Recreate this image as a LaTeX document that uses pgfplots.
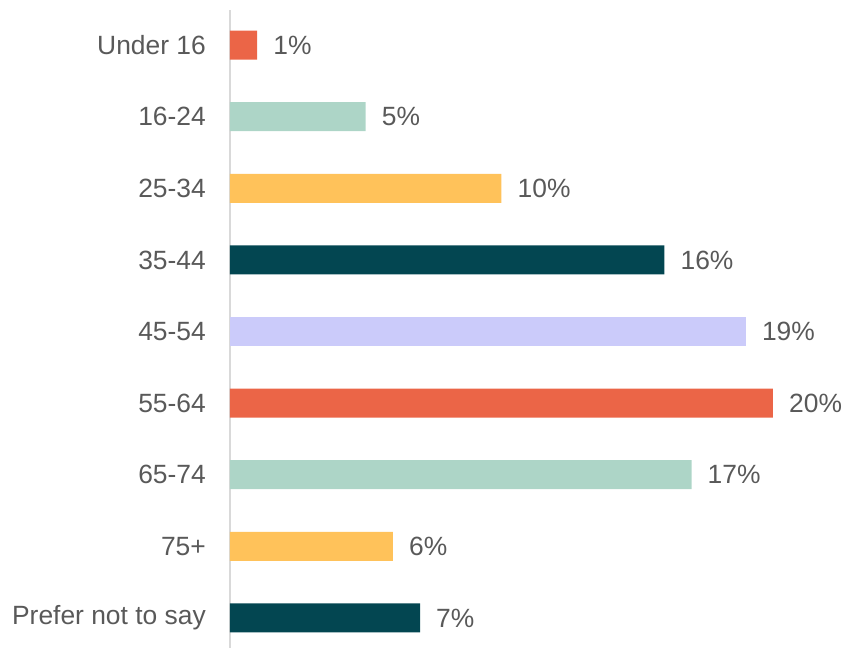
\documentclass[border=0pt]{standalone}
\usepackage{pgfplots}
\pgfplotsset{compat=1.18}
\usepackage{fontspec}
\setmainfont{Liberation Sans}
\definecolor{cRed}{HTML}{EB6547}
\definecolor{cMint}{HTML}{ADD5C7}
\definecolor{cYellow}{HTML}{FFC25A}
\definecolor{cTeal}{HTML}{034651}
\definecolor{cLav}{HTML}{CBCBFA}
\definecolor{axisgray}{HTML}{D9D9D9}
\definecolor{labelgray}{HTML}{595959}
\begin{document}
\begin{tikzpicture}
\useasboundingbox (-230pt,0pt) rectangle (616pt,-648pt);
\begin{axis}[
  at={(0pt,-10pt)}, anchor=north west,
  scale only axis, width=616pt, height=638pt,
  xmin=0, xmax=22.69, ymin=-0.49, ymax=8.42, y dir=reverse,
  xbar, bar width=29pt, bar shift=0pt,
  hide x axis,
  axis y line*=left,
  y axis line style={draw=axisgray, line width=1.5pt, -},
  ytick={0,...,8},
  yticklabels={Under 16,16-24,25-34,35-44,45-54,55-64,65-74,75+,Prefer not to say},
  major tick length=0pt,
  /pgf/number format/assume math mode=true,
  yticklabel style={font=\fontsize{26.4}{31}\selectfont, text=labelgray, inner sep=0pt, xshift=-24pt, anchor=east},
  nodes near coords={\pgfmathprintnumber{\pgfplotspointmeta}\%},
  nodes near coords style={font=\fontsize{26.4}{31}\selectfont, text=labelgray, anchor=west, inner sep=0pt, xshift=16pt},
  every axis plot/.append style={draw=none},
  clip=false,
]
\addplot[fill=cRed] coordinates {(1,0) (20,5)};
\addplot[fill=cMint] coordinates {(5,1) (17,6)};
\addplot[fill=cYellow] coordinates {(10,2) (6,7)};
\addplot[fill=cTeal] coordinates {(16,3) (7,8)};
\addplot[fill=cLav] coordinates {(19,4)};
\end{axis}
\end{tikzpicture}
\end{document}
